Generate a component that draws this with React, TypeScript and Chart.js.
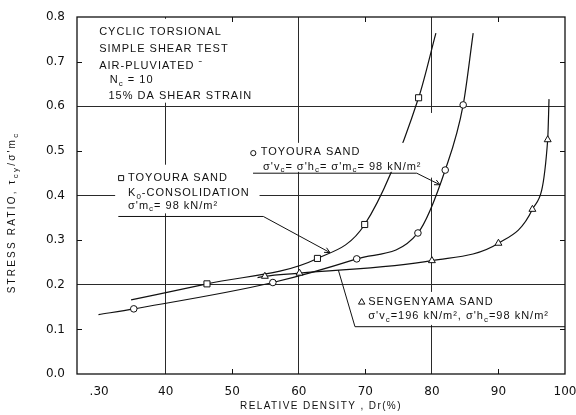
import React, { useEffect, useRef } from 'react';
import { Chart, registerables } from 'chart.js';

Chart.register(...registerables);

// ---- axis ticks ----
const xTickValues = [30, 40, 50, 60, 70, 80, 90, 100];
const xTickLabels = ['.30', '40', '50', '60', '70', '80', '90', '100'];
const yTickValues = [0, 0.1, 0.2, 0.3, 0.4, 0.5, 0.6, 0.7, 0.8];
const yTickLabels = ['0.0', '0.1', '0.2', '0.3', '0.4', '0.5', '0.6', '0.7', '0.8'];
const xGridValues = [40, 60, 80];
const yGridValues = [0.2, 0.4, 0.6];
const xMinorTicks = [50, 70, 90];
const yMinorTicks = [0.1, 0.3, 0.5, 0.7];

// ---- Toyoura sand, K0-consolidation (squares) ----
const k0MarkX = [46.2, 62.8, 69.9, 78.0];
const k0MarkY = [0.202, 0.259, 0.335, 0.619];
const k0CurveX = [34.8, 46.2, 62.8, 69.9, 78.0, 80.6];
const k0CurveY = [0.166, 0.202, 0.259, 0.335, 0.619, 0.764];

// ---- Toyoura sand, isotropic (circles) ----
const isoMarkX = [35.2, 56.1, 68.7, 77.9, 82.0, 84.7];
const isoMarkY = [0.146, 0.205, 0.258, 0.316, 0.457, 0.603];
const isoCurveX = [29.9, 35.2, 56.1, 68.7, 77.9, 82.0, 84.7, 86.2];
const isoCurveY = [0.133, 0.146, 0.205, 0.258, 0.316, 0.457, 0.603, 0.764];

// ---- Sengenyama sand (triangles) ----
const senMarkX = [54.9, 60.1, 80.0, 90.0, 95.1, 97.4];
const senMarkY = [0.219, 0.226, 0.254, 0.293, 0.369, 0.525];
const senCurveX = [53.8, 54.9, 60.1, 80.0, 90.0, 95.1, 97.4, 97.6];
const senCurveY = [0.216, 0.219, 0.226, 0.254, 0.293, 0.369, 0.525, 0.616];

const INK = '#111111';
const FONT = '"Liberation Sans", Arial, sans-serif';

const pts = (xs: number[], ys: number[]) => xs.map((x, i) => ({ x, y: ys[i] }));
const near = (v: number, list: number[]) => list.some((g) => Math.abs(g - v) < 1e-6);

type Run = { t: string; sub?: boolean };

// annotation layout (data coordinates)
const masks = [
  { x0: 27.1, x1: 54.1, y0: 0.608, y1: 0.796 },
  { x0: 32.4, x1: 54.1, y0: 0.36, y1: 0.469 },
  { x0: 52.4, x1: 78.5, y0: 0.453, y1: 0.518 },
  { x0: 79.6, x1: 80.5, y0: 0.44, y1: 0.585 },
  { x0: 68.1, x1: 99.7, y0: 0.11, y1: 0.184 },
];

const leaders: { p: number[][]; arrow: boolean }[] = [
  { p: [[32.88, 0.353], [54.67, 0.353], [64.69, 0.272]], arrow: true },
  { p: [[53.12, 0.45], [77.72, 0.45], [81.22, 0.424]], arrow: true },
  { p: [[65.94, 0.233], [68.44, 0.106], [100, 0.106]], arrow: false },
];

const glyphs = [
  { kind: 'rect', x: 33.3, y: 0.439 },
  { kind: 'circle', x: 53.16, y: 0.495 },
  { kind: 'triangle', x: 69.45, y: 0.162 },
];

const labels: { x: number; y: number; runs: Run[] }[] = [
  { x: 30.0, y: 0.766, runs: [{ t: 'CYCLIC TORSIONAL' }] },
  { x: 30.0, y: 0.728, runs: [{ t: 'SIMPLE SHEAR TEST' }] },
  { x: 30.0, y: 0.691, runs: [{ t: 'AIR-PLUVIATED ˉ' }] },
  { x: 31.6, y: 0.658, runs: [{ t: 'N' }, { t: 'c', sub: true }, { t: ' = 10' }] },
  { x: 31.4, y: 0.622, runs: [{ t: '15% DA SHEAR STRAIN' }] },
  { x: 34.34, y: 0.439, runs: [{ t: 'TOYOURA SAND' }] },
  { x: 34.34, y: 0.405, runs: [{ t: 'K' }, { t: '0', sub: true }, { t: '-CONSOLIDATION' }] },
  { x: 34.34, y: 0.377, runs: [{ t: "σ'm" }, { t: 'c', sub: true }, { t: '= 98 kN/m²' }] },
  { x: 54.27, y: 0.497, runs: [{ t: 'TOYOURA SAND' }] },
  {
    x: 54.62,
    y: 0.464,
    runs: [
      { t: "σ'v" }, { t: 'c', sub: true }, { t: "= σ'h" }, { t: 'c', sub: true },
      { t: "= σ'm" }, { t: 'c', sub: true }, { t: '= 98 kN/m²' },
    ],
  },
  { x: 70.44, y: 0.162, runs: [{ t: 'SENGENYAMA SAND' }] },
  {
    x: 70.44,
    y: 0.129,
    runs: [
      { t: "σ'v" }, { t: 'c', sub: true }, { t: '=196 kN/m², ' + "σ'h" }, { t: 'c', sub: true },
      { t: '=98 kN/m²' },
    ],
  },
];

function drawRuns(
  ctx: CanvasRenderingContext2D,
  runs: Run[],
  x: number,
  y: number,
  size: number,
  subSize: number,
  spacing: number,
  center = false
) {
  (ctx as any).letterSpacing = spacing + 'px';
  ctx.textBaseline = 'middle';
  ctx.textAlign = 'left';
  const widths = runs.map((r) => {
    ctx.font = `${r.sub ? subSize : size}px ${FONT}`;
    return ctx.measureText(r.t).width;
  });
  const total = widths.reduce((a, b) => a + b, 0);
  let cx = center ? x - total / 2 : x;
  runs.forEach((r, i) => {
    ctx.font = `${r.sub ? subSize : size}px ${FONT}`;
    ctx.fillText(r.t, cx, r.sub ? y + size * 0.3 : y);
    cx += widths[i];
  });
  (ctx as any).letterSpacing = '0px';
}

const annotPlugin = {
  id: 'annot',
  afterDatasetsDraw(chart: any) {
    const { ctx, chartArea: ca, scales } = chart;
    const X = (v: number) => scales.x.getPixelForValue(v);
    const Y = (v: number) => scales.y.getPixelForValue(v);
    ctx.save();
    // white label backgrounds
    ctx.fillStyle = '#ffffff';
    masks.forEach((m) => ctx.fillRect(X(m.x0), Y(m.y1), X(m.x1) - X(m.x0), Y(m.y0) - Y(m.y1)));

    // frame
    ctx.strokeStyle = INK;
    ctx.lineWidth = 1.3;
    ctx.strokeRect(ca.left, ca.top, ca.right - ca.left, ca.bottom - ca.top);

    // inward minor ticks
    ctx.lineWidth = 1;
    ctx.beginPath();
    xMinorTicks.forEach((v) => {
      const px = Math.round(X(v)) + 0.5;
      ctx.moveTo(px, ca.bottom);
      ctx.lineTo(px, ca.bottom - 5);
      ctx.moveTo(px, ca.top);
      ctx.lineTo(px, ca.top + 5);
    });
    yMinorTicks.forEach((v) => {
      const py = Math.round(Y(v)) + 0.5;
      ctx.moveTo(ca.left, py);
      ctx.lineTo(ca.left + 5, py);
      ctx.moveTo(ca.right, py);
      ctx.lineTo(ca.right - 5, py);
    });
    ctx.stroke();

    // leader lines
    ctx.lineWidth = 1;
    leaders.forEach((l) => {
      ctx.beginPath();
      l.p.forEach(([vx, vy], i) => (i === 0 ? ctx.moveTo(X(vx), Y(vy)) : ctx.lineTo(X(vx), Y(vy))));
      ctx.stroke();
      if (l.arrow) {
        const [ax, ay] = l.p[l.p.length - 2];
        const [bx, by] = l.p[l.p.length - 1];
        const x1 = X(ax), y1 = Y(ay), x2 = X(bx), y2 = Y(by);
        const ang = Math.atan2(y2 - y1, x2 - x1);
        ctx.beginPath();
        [0.45, -0.45].forEach((d) => {
          ctx.moveTo(x2, y2);
          ctx.lineTo(x2 - 6 * Math.cos(ang + d), y2 - 6 * Math.sin(ang + d));
        });
        ctx.stroke();
      }
    });

    // legend glyphs next to labels
    ctx.lineWidth = 1;
    glyphs.forEach((g) => {
      const gx = X(g.x), gy = Y(g.y);
      ctx.beginPath();
      if (g.kind === 'rect') ctx.rect(gx - 2.5, gy - 2.5, 5, 5);
      else if (g.kind === 'circle') ctx.arc(gx, gy, 2.6, 0, Math.PI * 2);
      else {
        ctx.moveTo(gx, gy - 3.2);
        ctx.lineTo(gx + 3.2, gy + 2.4);
        ctx.lineTo(gx - 3.2, gy + 2.4);
        ctx.closePath();
      }
      ctx.stroke();
    });

    // label texts
    ctx.fillStyle = INK;
    labels.forEach((lb) => drawRuns(ctx, lb.runs, X(lb.x), Y(lb.y), 11, 8, 1));

    // axis titles
    drawRuns(ctx, [{ t: 'RELATIVE DENSITY , Dr(%)' }], (ca.left + ca.right) / 2, ca.bottom + 32, 10, 8, 1.4, true);
    ctx.save();
    ctx.translate(12.7, (ca.top + ca.bottom) / 2 + 17);
    ctx.rotate(-Math.PI / 2);
    drawRuns(
      ctx,
      [{ t: 'STRESS RATIO, τ' }, { t: 'cy', sub: true }, { t: "/σ'm" }, { t: 'c', sub: true }],
      0,
      0,
      10,
      8,
      2.2,
      true
    );
    ctx.restore();
    ctx.restore();
  },
};

const curve = (xs: number[], ys: number[]) => ({
  type: 'line' as const,
  data: pts(xs, ys),
  borderColor: INK,
  borderWidth: 1.2,
  pointRadius: 0,
  fill: false,
  cubicInterpolationMode: 'monotone' as const,
  order: 2,
});

const marks = (xs: number[], ys: number[], style: string, r: number) => ({
  type: 'scatter' as const,
  data: pts(xs, ys),
  showLine: false,
  pointStyle: style,
  pointRadius: r,
  pointBackgroundColor: '#ffffff',
  pointBorderColor: INK,
  pointBorderWidth: 1,
  order: 1,
});

export default function App() {
  const ref = useRef<HTMLCanvasElement>(null);
  useEffect(() => {
    const tickFont = { family: '"DejaVu Sans", sans-serif', size: 12 };
    const chart = new Chart(ref.current as HTMLCanvasElement, {
      type: 'line',
      data: {
        datasets: [
          curve(k0CurveX, k0CurveY),
          curve(isoCurveX, isoCurveY),
          curve(senCurveX, senCurveY),
          marks(k0MarkX, k0MarkY, 'rect', 4.3),
          marks(isoMarkX, isoMarkY, 'circle', 3.3),
          marks(senMarkX, senMarkY, 'triangle', 4),
        ] as any,
      },
      options: {
        animation: false,
        responsive: false,
        maintainAspectRatio: false,
        layout: { padding: { top: 17, right: 11, left: 0, bottom: 0 } },
        plugins: { legend: { display: false }, tooltip: { enabled: false } },
        scales: {
          x: {
            type: 'linear',
            min: 26.67,
            max: 100,
            afterBuildTicks: (s: any) => {
              s.ticks = xTickValues.map((v) => ({ value: v }));
            },
            afterFit: (s: any) => {
              s.height = 41;
              s.paddingLeft = 0;
              s.paddingRight = 0;
            },
            ticks: {
              autoSkip: false,
              maxRotation: 0,
              padding: 11,
              color: INK,
              font: tickFont,
              callback: (v: any) => {
                const i = xTickValues.findIndex((t) => Math.abs(t - Number(v)) < 1e-6);
                return i >= 0 ? xTickLabels[i] : '';
              },
            },
            grid: {
              drawTicks: false,
              lineWidth: 1,
              color: (c: any) => (c.tick && near(c.tick.value, xGridValues) ? '#2a2a2a' : 'rgba(0,0,0,0)'),
            },
            border: { display: false },
          },
          y: {
            type: 'linear',
            min: 0,
            max: 0.8,
            afterBuildTicks: (s: any) => {
              s.ticks = yTickValues.map((v) => ({ value: v }));
            },
            afterFit: (s: any) => {
              s.width = 77;
              s.paddingTop = 0;
              s.paddingBottom = 0;
            },
            ticks: {
              padding: 12,
              color: INK,
              font: tickFont,
              callback: (v: any) => {
                const i = yTickValues.findIndex((t) => Math.abs(t - Number(v)) < 1e-6);
                return i >= 0 ? yTickLabels[i] : '';
              },
            },
            grid: {
              drawTicks: false,
              lineWidth: 1,
              color: (c: any) => (c.tick && near(c.tick.value, yGridValues) ? '#2a2a2a' : 'rgba(0,0,0,0)'),
            },
            border: { display: false },
          },
        },
      },
      plugins: [annotPlugin as any],
    });
    return () => chart.destroy();
  }, []);
  return (
    <div style={{ position: 'absolute', left: 0, top: 0, width: 576, height: 415, background: '#fff' }}>
      <canvas ref={ref} width={576} height={415} style={{ display: 'block' }} />
    </div>
  );
}
